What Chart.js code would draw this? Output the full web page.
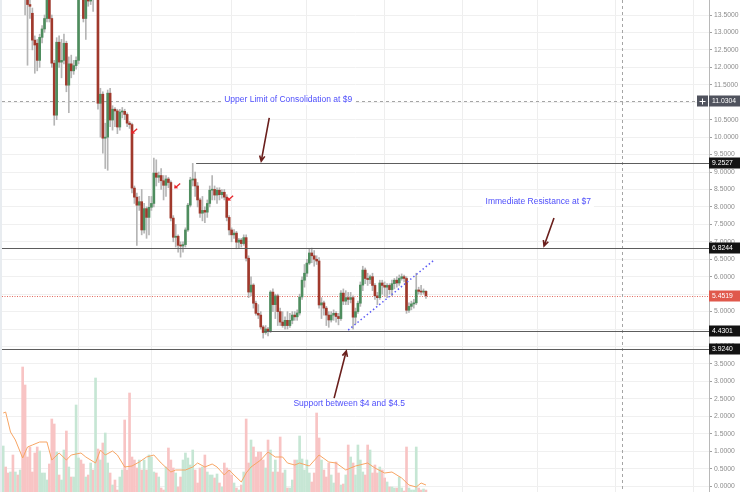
<!DOCTYPE html>
<html>
<head>
<meta charset="utf-8">
<script src="https://cdn.jsdelivr.net/npm/chart.js@4.4.1/dist/chart.umd.min.js"></script>
<style>
    html, body { margin: 0; padding: 0; background: #fff; }
    #wrap { width: 740px; height: 492px; position: relative; }
</style>
</head>
<body>
<div id="wrap"><canvas id="priceChart"></canvas></div>
<script>
/* daily candles */
const opens = [
    14.6,14.9,14.7,14.5,14.8,14.4,14.6,14.3,14.5,14.2,
    14.1,13.8,13.55,12.78,12.69,12.2,12.86,13.1,13.4,14.3,
    13.4,12.12,10.63,12.72,12.15,12.2,12.69,11.49,12.1,11.9,
    12.05,12.2,14.5,14.3,13.4,14.2,13.9,14.3,14.1,14.4,
    10.97,11.23,9.97,10.0,11.26,10.49,10.8,10.75,10.29,10.72,
    10.74,10.65,10.4,10.36,8.54,8.28,8.05,8.15,7.34,7.95,
    7.7,7.99,8.1,8.97,8.85,8.9,8.75,8.62,8.8,8.7,
    7.68,7.13,7.16,6.9,6.88,6.92,7.34,8.05,8.77,8.8,
    8.6,8.2,7.82,7.9,7.85,8.1,8.48,8.5,8.34,8.48,
    8.35,8.42,8.28,7.7,7.34,7.2,7.25,6.99,7.05,6.95,
    7.12,6.53,5.56,5.76,5.24,4.95,4.9,4.56,4.4,4.5,
    4.45,5.56,5.2,5.45,5.0,4.7,4.6,4.75,4.6,4.75,
    4.9,4.85,4.96,5.42,5.9,6.1,6.39,6.68,6.6,6.5,
    6.45,5.19,5.25,5.1,4.9,4.76,4.9,4.95,4.86,4.8,
    5.53,5.3,5.4,5.35,5.4,4.84,5.0,5.24,5.76,6.19,
    5.95,5.92,6.0,5.75,5.45,5.4,5.82,5.75,5.7,5.75,
    5.63,5.8,5.9,5.82,5.95,6.0,5.95,5.04,5.15,5.22,
    5.25,5.62,5.58,5.56,5.58
];
const closes = [
    14.9,14.7,14.5,14.8,14.4,14.6,14.3,14.5,14.2,14.1,
    13.8,13.75,12.78,12.64,12.2,12.86,13.1,13.4,14.3,13.4,
    12.12,10.63,12.72,12.15,12.2,12.69,11.49,12.1,11.9,12.05,
    12.2,14.4,14.3,13.4,14.2,13.9,14.3,14.1,14.4,10.97,
    11.23,9.97,10.0,11.26,10.49,10.8,10.75,10.29,10.72,10.74,
    10.65,10.4,10.36,8.54,8.28,8.05,8.15,7.34,7.95,7.7,
    7.99,8.1,8.97,8.85,8.9,8.75,8.62,8.8,8.7,7.68,
    7.13,7.16,6.9,6.88,6.92,7.34,8.05,8.77,8.8,8.6,
    8.2,7.82,7.9,7.85,8.1,8.48,8.5,8.34,8.48,8.35,
    8.42,8.28,7.7,7.34,7.2,7.25,6.99,7.05,6.95,7.12,
    6.53,5.56,5.76,5.24,4.95,4.9,4.56,4.4,4.5,4.45,
    5.56,5.2,5.45,5.0,4.7,4.6,4.75,4.6,4.75,4.9,
    4.85,4.96,5.42,5.9,6.1,6.39,6.68,6.6,6.5,6.45,
    5.19,5.25,5.1,4.9,4.76,4.9,4.95,4.86,4.8,5.53,
    5.3,5.4,5.35,5.4,4.84,5.0,5.24,5.76,6.19,5.95,
    5.92,6.0,5.75,5.45,5.4,5.82,5.75,5.7,5.75,5.63,
    5.8,5.9,5.82,5.95,6.0,5.95,5.04,5.15,5.22,5.25,
    5.62,5.58,5.56,5.58,5.4519
];
const highs = [
    15.2,15.1,14.9,15.0,15.0,14.8,14.8,14.7,14.7,14.4,
    14.3,14.2,13.7,12.9,12.8,12.95,13.2,13.5,14.6,14.5,
    13.5,12.2,12.85,12.9,12.8,12.95,12.75,12.3,12.35,12.2,
    12.3,14.6,14.7,14.4,14.4,14.5,14.6,14.5,14.7,14.6,
    11.4,11.3,10.4,11.35,11.4,10.9,10.85,10.8,10.8,10.85,
    10.8,10.7,10.45,10.4,8.6,8.4,8.3,8.5,8.1,8.0,
    8.3,8.3,9.4,9.35,9.0,9.1,8.9,8.9,8.85,8.75,
    7.75,7.5,7.2,7.0,7.0,7.4,8.1,8.85,9.25,9.0,
    8.7,8.25,8.3,8.0,8.2,8.6,8.9,8.6,8.55,8.55,
    8.5,8.5,8.35,7.75,7.4,7.35,7.3,7.1,7.1,7.2,
    7.2,6.6,6.0,5.8,5.3,5.2,5.0,4.6,4.6,4.55,
    5.6,5.65,5.5,5.5,5.1,5.0,4.85,5.0,4.95,5.0,
    5.0,5.05,5.5,6.0,6.35,6.5,6.8,6.82,6.75,6.6,
    6.55,5.4,5.3,5.15,5.0,5.0,5.05,5.0,4.95,5.6,
    5.65,5.6,5.55,5.55,5.45,5.1,5.3,5.85,6.3,6.25,
    6.1,6.05,6.1,5.8,5.55,5.9,5.9,5.85,5.8,5.8,
    5.9,5.95,6.0,6.05,6.08,6.05,6.0,5.25,5.3,5.35,
    6.1,5.7,5.75,5.65,5.6
];
const lows = [
    14.4,14.5,14.3,14.3,14.2,14.2,14.1,14.1,14.0,13.5,
    12.06,13.4,12.5,11.83,11.9,12.0,12.7,13.0,13.3,13.3,
    12.0,10.34,10.5,12.0,11.7,12.1,11.3,10.7,11.7,11.8,
    11.95,12.1,14.0,13.3,12.8,13.75,13.8,13.6,14.0,10.8,
    10.0,9.54,9.1,9.05,10.3,10.2,10.3,10.1,10.2,10.55,
    10.5,10.3,10.25,8.4,8.1,6.9,7.9,7.2,7.25,7.1,
    7.2,7.9,8.0,8.6,8.7,8.5,8.2,8.3,8.55,7.6,
    7.0,6.85,6.7,6.56,6.7,6.85,7.3,8.0,8.6,8.3,
    8.0,7.7,7.6,7.55,7.7,8.0,8.2,8.2,8.1,8.2,
    8.25,8.2,7.6,7.2,7.0,7.1,6.8,6.8,6.85,6.9,
    6.45,5.4,5.45,5.1,4.9,4.8,4.5,4.24,4.35,4.3,
    4.4,5.0,4.8,4.6,4.6,4.55,4.5,4.5,4.55,4.65,
    4.75,4.75,4.9,5.35,5.7,6.0,6.35,6.4,6.3,6.35,
    5.1,4.8,4.9,4.6,4.55,4.7,4.75,4.7,4.62,4.75,
    5.2,5.2,5.2,5.25,4.5,4.65,4.95,5.15,5.6,5.8,
    5.75,5.8,5.6,5.35,5.2,5.35,5.5,5.45,5.4,5.5,
    5.45,5.65,5.7,5.75,5.9,5.85,4.95,4.98,5.05,5.1,
    5.2,5.5,5.48,5.5,5.38
];
const volumes = [
    46,25,19,20,37,20,17,22,125,107,
    35,45,20,39,45,41,19,19,12,28,
    73,68,40,17,12,42,61,25,15,15,
    87,34,32,28,15,17,29,22,114,43,
    32,49,59,29,19,7,12,2,15,22,
    72,22,99,35,32,24,32,22,32,22,
    37,35,20,19,15,4,2,25,44,32,
    24,19,5,15,32,39,34,27,42,22,
    9,24,25,37,20,17,17,14,18,
    9,5,29,24,22,17,9,4,2,7,
    20,73,29,52,45,35,40,40,32,24,
    52,42,20,32,20,55,19,22,4,4,
    12,32,32,56,33,22,32,19,10,19,
    79,54,32,22,15,29,17,9,30,19,
    7,8,17,47,35,29,17,47,32,20,
    17,47,42,19,27,19,25,22,14,10,
    5,5,4,4,15,4,1,45,4,2,
    2,45,4,2,3,2
];
// volume moving average, read at a few candles
const maIdx = [0,1,3,5,8,10,12,15,18,20,23,26,28,32,34,38,40,42,45,47,50,53,56,59,62,65,69,71,75,78,80,83,86,88,
    91,93,95,98,100,102,106,109,112,115,117,120,122,126,130,134,137,141,145,150,153,157,160,164,167,170,172,174];
const maVal = [79,80,60,52,34,45,47,50,50,32,39,32,37,39,35,29,42,37,41,37,25,26,30,35,37,29,20,22,22,25,29,25,28,25,
    17,22,17,10,19,25,32,40,35,35,29,27,29,26,37,30,29,22,26,29,24,19,20,14,7,5,9,7];

const priceTicks = [0,0.5,1,1.5,2,2.5,3,3.5,4,4.5,5,5.5,6,6.5,7,7.5,8,8.5,9,9.5,10,10.5,11,11.5,12,12.5,13,13.5];
const levels = [9.2527, 6.8244, 4.4301, 3.9240];
const lastPrice = 5.4519;
const crossPrice = 11.0304;

const slots = 291; // candles + empty space on the right
const labels = [];
for (let i = 0; i < slots; i++) labels.push(i);
const gridIdx = [31, 61, 94, 125, 157, 189, 220, 252, 284];

const UP = '#4e8d5e', DOWN = '#a0392c';
const isUp = i => closes[i] >= opens[i];

function arrow(c, x1, y1, x2, y2, size) {
    const a = Math.atan2(y2 - y1, x2 - x1);
    c.beginPath();
    c.moveTo(x1, y1);
    c.lineTo(x2, y2);
    c.moveTo(x2 - size * Math.cos(a - 0.45), y2 - size * Math.sin(a - 0.45));
    c.lineTo(x2, y2);
    c.lineTo(x2 - size * Math.cos(a + 0.45), y2 - size * Math.sin(a + 0.45));
    c.stroke();
}

const drawings = {
    id: 'drawings',
    beforeDraw(chart) {
        const c = chart.ctx;
        c.save();
        c.fillStyle = '#e8ecf0';
        c.fillRect(0, 0, 2, chart.height);
        c.restore();
    },
    beforeDatasetsDraw(chart) {
        const c = chart.ctx, a = chart.chartArea, x = chart.scales.x, y = chart.scales.y;
        c.save();
        c.lineWidth = 1;
        c.strokeStyle = '#e36b5f';
        c.setLineDash([1, 1.5]);
        const py = Math.round(y.getPixelForValue(lastPrice)) + 0.5;
        c.beginPath(); c.moveTo(a.left, py); c.lineTo(a.right, py); c.stroke();

        c.strokeStyle = '#a5a5a5';
        c.setLineDash([3, 3]);
        const cy = Math.round(y.getPixelForValue(crossPrice)) + 0.5;
        const cx = Math.round(x.getPixelForValue(254.7)) + 0.5;
        c.beginPath();
        c.moveTo(a.left, cy); c.lineTo(a.right, cy);
        c.moveTo(cx, a.top); c.lineTo(cx, a.bottom);
        c.stroke();
        c.restore();
    },
    afterDatasetsDraw(chart) {
        const c = chart.ctx, a = chart.chartArea, x = chart.scales.x, y = chart.scales.y;
        c.save();

        // horizontal levels
        const from = [79.4, -1, 107.4, -1];
        c.strokeStyle = '#5d5d5d';
        c.lineWidth = 1.2;
        levels.forEach((p, k) => {
            const ly = Math.round(y.getPixelForValue(p)) + 0.5;
            const lx = from[k] < 0 ? a.left : x.getPixelForValue(from[k]);
            c.beginPath(); c.moveTo(lx, ly); c.lineTo(a.right, ly); c.stroke();
        });

        // rising support trend
        c.strokeStyle = '#5c5cf6';
        c.lineWidth = 1.5;
        c.setLineDash([1.5, 2.5]);
        c.beginPath();
        c.moveTo(x.getPixelForValue(142), y.getPixelForValue(4.47));
        c.lineTo(x.getPixelForValue(177.4), y.getPixelForValue(6.48));
        c.stroke();
        c.setLineDash([]);

        // notes
        const notes = [
            ['Upper Limit of Consolidation at $9', 117.3, 11.06],
            ['Immediate Resistance at $7', 220.2, 8.14],
            ['Support between $4 and $4.5', 142.4, 2.35]
        ];
        c.font = '8.5px "Liberation Sans", Arial, sans-serif';
        c.textAlign = 'center';
        c.textBaseline = 'middle';
        notes.forEach(n => {
            const tx = x.getPixelForValue(n[1]), ty = y.getPixelForValue(n[2]);
            const w = c.measureText(n[0]).width;
            c.fillStyle = '#fff';
            c.fillRect(tx - w / 2 - 3, ty - 5, w + 6, 10);
            c.fillStyle = '#4f4ffb';
            c.fillText(n[0], tx, ty);
        });

        // arrows
        c.strokeStyle = '#6a1f1c';
        c.lineWidth = 1.6;
        [[109.5, 10.55, 106.2, 9.31], [226.7, 7.68, 222.6, 6.88], [136.2, 2.52, 141.2, 3.87]].forEach(r => {
            arrow(c, x.getPixelForValue(r[0]), y.getPixelForValue(r[1]),
                x.getPixelForValue(r[2]), y.getPixelForValue(r[3]), 6);
        });

        // small red markers
        c.strokeStyle = '#e8242a';
        c.fillStyle = '#e8242a';
        c.lineWidth = 1.3;
        [[53.9, 10.17], [71.6, 8.6], [93.4, 8.25]].forEach(m => {
            const mx = x.getPixelForValue(m[0]), my = y.getPixelForValue(m[1]);
            c.beginPath(); c.moveTo(mx + 3, my - 2.5); c.lineTo(mx - 1, my + 1); c.stroke();
            c.beginPath();
            c.moveTo(mx - 3, my + 2.5); c.lineTo(mx - 2.6, my - 1.5); c.lineTo(mx + 1, my + 2.2);
            c.closePath(); c.fill();
        });
        c.restore();
    },
    afterDraw(chart) {
        const c = chart.ctx, a = chart.chartArea, y = chart.scales.y;
        c.save();
        c.font = '6.8px "Liberation Sans", Arial, sans-serif';
        c.textBaseline = 'middle';
        c.textAlign = 'left';
        const tag = (p, bg) => {
            const ty = Math.round(y.getPixelForValue(p));
            c.fillStyle = bg;
            c.fillRect(a.right, ty - 5.5, chart.width - a.right, 11);
            c.fillStyle = '#fff';
            c.fillText(p.toFixed(4), a.right + 3, ty + 0.5);
            return ty;
        };
        const cy = tag(crossPrice, '#50535e');
        c.fillStyle = '#50535e';
        c.fillRect(a.right - 12, cy - 5.5, 11, 11);
        c.strokeStyle = '#fff';
        c.lineWidth = 1;
        c.beginPath();
        c.moveTo(a.right - 9.5, cy + 0.5); c.lineTo(a.right - 3.5, cy + 0.5);
        c.moveTo(a.right - 6.5, cy - 2.5); c.lineTo(a.right - 6.5, cy + 3.5);
        c.stroke();
        levels.forEach(p => tag(p, '#131313'));
        tag(lastPrice, '#e0594c');
        c.restore();
    }
};

const ctx = document.getElementById('priceChart').getContext('2d');
const priceChart = new Chart(ctx, {
    type: 'bar',
    data: {
        labels: labels,
        datasets: [
            {
                label: 'Body',
                data: opens.map((o, i) => [o, closes[i]]),
                backgroundColor: c => isUp(c.dataIndex) ? UP : DOWN,
                barThickness: 2,
                minBarLength: 1,
                grouped: false,
                order: 1
            },
            {
                label: 'Wick',
                data: lows.map((l, i) => [l, highs[i]]),
                backgroundColor: '#b5b5b5',
                barThickness: 1,
                grouped: false,
                order: 2
            },
            {
                type: 'line',
                label: 'Volume MA',
                data: maIdx.map((k, j) => ({ x: k, y: maVal[j] })),
                yAxisID: 'yv',
                borderColor: '#f7a564',
                borderWidth: 1,
                pointRadius: 0,
                tension: 0,
                order: 4
            },
            {
                label: 'Volume',
                data: volumes,
                yAxisID: 'yv',
                backgroundColor: c => isUp(c.dataIndex) ? '#c6e6d4' : '#f8c4c4',
                barThickness: 2,
                grouped: false,
                order: 5
            }
        ]
    },
    options: {
        responsive: true,
        maintainAspectRatio: false,
        animation: false,
        layout: { padding: { left: 2, top: 0, right: 0, bottom: 0 } },
        plugins: { legend: { display: false }, tooltip: { enabled: false } },
        scales: {
            x: {
                offset: true,
                ticks: { display: false, autoSkip: false },
                grid: {
                    offset: false,
                    drawTicks: false,
                    color: c => gridIdx.includes(c.index) ? '#eeeeee' : 'rgba(0,0,0,0)'
                },
                border: { display: false }
            },
            y: {
                position: 'right',
                min: -0.17,
                max: 13.93,
                afterBuildTicks: s => { s.ticks = priceTicks.map(v => ({ value: v })); },
                afterFit: s => { s.width = 31; s.paddingTop = 0; s.paddingBottom = 0; },
                ticks: {
                    color: '#8c8c8c',
                    padding: 2,
                    autoSkip: false,
                    font: { family: '"Liberation Sans", Arial, sans-serif', size: 6.8 },
                    callback: v => v.toFixed(4)
                },
                grid: { color: '#f0f0f0', tickColor: '#a0a0a0', tickLength: 3 },
                border: { color: '#b8b8b8' }
            },
            yv: {
                display: false,
                min: 0,
                max: 492
            }
        }
    },
    plugins: [drawings]
});
</script>
</body>
</html>
